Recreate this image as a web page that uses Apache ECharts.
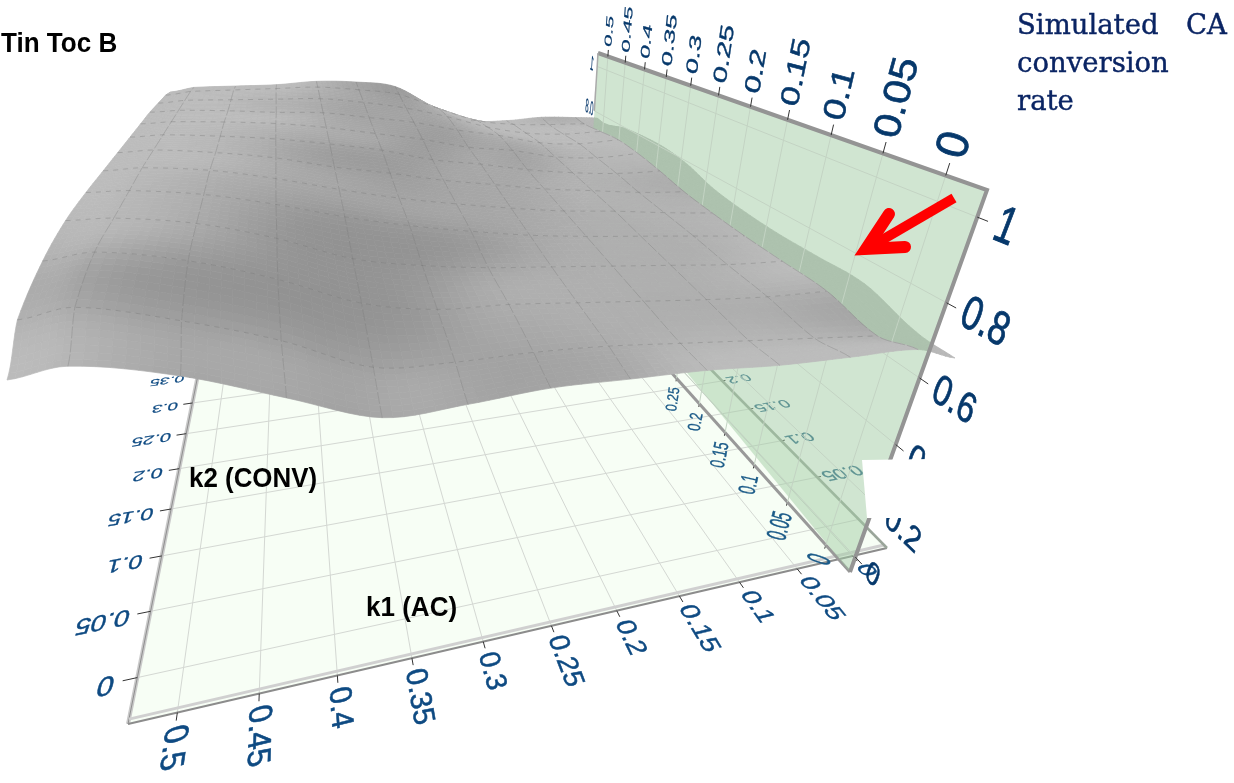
<!DOCTYPE html>
<html><head><meta charset="utf-8">
<style>html,body{margin:0;padding:0;background:#fff}#c{width:1234px;height:783px}</style>
<script src="https://cdn.jsdelivr.net/npm/echarts@6/dist/echarts.min.js"></script></head>
<body><div id="c"></div>
<script>
// ---- data ----
const k1Ticks=[0.5,0.45,0.4,0.35,0.3,0.25,0.2,0.15,0.1,0.05,0];
const k1Labels=['0.5','0.45','0.4','0.35','0.3','0.25','0.2','0.15','0.1','0.05','0'];
const k2Ticks=[0,0.05,0.1,0.15,0.2,0.25,0.3,0.35,0.4,0.45,0.5];
const k2Labels=['0','0.05','0.1','0.15','0.2','0.25','0.3','0.35','0.4','0.45','0.5'];
const zTicks=[0,0.2,0.4,0.6,0.8,1];
const zLabels=['0','0.2','0.4','0.6','0.8','1'];
const surfaceK1=[0.529,0.5,0.45,0.4,0.35,0.3,0.25,0.2,0.15,0.1,0.05,0,-0.032];
const surfaceK2=[-0.03,0,0.05,0.1,0.15,0.2,0.25,0.3,0.35,0.4,0.45,0.5,0.53];
const surfaceZ=[
[.80,.83,.80,.735,.67,.70,.74,.76,.78,.79,.81,.83,.80],
[.86,.89,.855,.80,.72,.73,.755,.77,.775,.78,.785,.79,.80],
[.89,.915,.895,.845,.775,.755,.77,.775,.78,.785,.795,.815,.84],
[.90,.91,.90,.86,.80,.78,.775,.78,.785,.79,.795,.81,.83],
[.895,.905,.90,.875,.84,.815,.80,.79,.79,.795,.80,.805,.82],
[.885,.90,.90,.88,.85,.825,.81,.80,.795,.80,.80,.805,.82],
[.875,.89,.89,.88,.855,.84,.82,.81,.80,.80,.80,.81,.83],
[.865,.88,.885,.885,.875,.86,.83,.82,.805,.80,.805,.825,.86],
[.855,.87,.88,.885,.88,.865,.85,.825,.82,.80,.805,.835,.87],
[.845,.86,.87,.875,.885,.875,.865,.84,.825,.80,.805,.835,.86],
[.83,.85,.865,.88,.895,.89,.875,.845,.805,.785,.79,.815,.84],
[.815,.84,.86,.88,.90,.90,.89,.83,.78,.77,.78,.795,.80],
[.80,.83,.85,.87,.90,.91,.90,.805,.745,.755,.785,.795,.80]];

// ---- camera ----
function quad(p0,p1,p2,p3){
 const [x0,y0]=p0,[x1,y1]=p1,[x2,y2]=p2,[x3,y3]=p3;
 const dx1=x1-x2,dx2=x3-x2,sx=x0-x1+x2-x3,dy1=y1-y2,dy2=y3-y2,sy=y0-y1+y2-y3;
 const den=dx1*dy2-dx2*dy1;
 const g=(sx*dy2-dx2*sy)/den,h=(dx1*sy-sx*dy1)/den;
 return {a:x1-x0+g*x1,b:x3-x0+h*x3,c:x0,d:y1-y0+g*y1,e:y3-y0+h*y3,f:y0,g,h};
}
function applyH(H,s,t){const w=H.g*s+H.h*t+1;return [(H.a*s+H.b*t+H.c)/w,(H.d*s+H.e*t+H.f)/w];}
const HF=quad([887,548],[128,724],[213,300],[599,256]);
const floorP=(k1,k2)=>applyH(HF,(k1+0.032)/0.561,(k2+0.03)/0.56);
const HW=quad([850,572],[987,190],[598,53],[584,275]);
const wallP=(k2,z)=>applyH(HW,(z+0.06)/1.118,(k2+0.028)/0.559);
const HS=quad([955,358],[7,380],[170,92],[597,118]);
const VP=[506,1496],LIFT=-0.27,ZREF=0.8;
function surfP(k1,k2,z){
 const s=(k1+0.032)/0.561,t=(k2+0.03)/0.56,d=(z-ZREF)*LIFT;
 const w=HS.g*s+HS.h*t+1+d;
 return [(HS.a*s+HS.b*t+HS.c+d*VP[0])/w,(HS.d*s+HS.e*t+HS.f+d*VP[1])/w];
}
// Catmull-Rom sampling of the read values, only to draw a smooth skin between them
function cr(a,b,c,d,t){return 0.5*((2*b)+(-a+c)*t+(2*a-5*b+4*c-d)*t*t+(-a+3*b-3*c+d)*t*t*t);}
const R=surfaceK2.length,C=surfaceK1.length;
function zAt(r,c,u,v){
 const row=i=>surfaceZ[Math.max(0,Math.min(R-1,i))];
 const col=(rr,j)=>rr[Math.max(0,Math.min(C-1,j))];
 const vals=[-1,0,1,2].map(dr=>{const rr=row(r+dr);return cr(col(rr,c-1),col(rr,c),col(rr,c+1),col(rr,c+2),u);});
 return cr(vals[0],vals[1],vals[2],vals[3],v);
}
const SUB=8;
function samp(r,c,i,j){
 let rr=r,cc=c,u=i/SUB,v=j/SUB;
 if(u>=1&&cc<C-2){cc++;u=0;} if(v>=1&&rr<R-2){rr++;v=0;}
 const k1=surfaceK1[cc]+(surfaceK1[cc+1]-surfaceK1[cc])*u;
 const k2=surfaceK2[rr]+(surfaceK2[rr+1]-surfaceK2[rr])*v;
 return [k1,k2,zAt(rr,cc,u,v)];
}
function rawGray(r,c,i,j){
 const a=samp(r,c,i,j),b=samp(r,c,i+1,j),d=samp(r,c,i,j+1),e=samp(r,c,i+1,j+1);
 const dk1=((b[2]+e[2])-(a[2]+d[2]))/2/(b[0]-a[0]);
 const s=((d[2]+e[2])-(a[2]+b[2]))/2/(d[1]-a[1]);
 let g=s<0.7?178-45*s:146.5+(s-0.7)*30;
 g-=14*dk1;
 return Math.max(146,Math.min(188,g));
}
// soft shading field over the skin
const NY=(R-1)*SUB,NX=(C-1)*SUB;
let G=[];
for(let y=0;y<NY;y++){const a=[];for(let x=0;x<NX;x++)a.push(rawGray(Math.floor(y/SUB),Math.floor(x/SUB),x%SUB,y%SUB));G.push(a);}
function blur(M,rad){
 const o=M.map(a=>a.slice());
 for(let y=0;y<NY;y++)for(let x=0;x<NX;x++){
  let s=0,n=0;
  for(let dy=-rad;dy<=rad;dy++)for(let dx=-rad;dx<=rad;dx++){
   const yy=y+dy,xx=x+dx; if(yy<0||yy>=NY||xx<0||xx>=NX)continue; s+=M[yy][xx];n++;
  }
  o[y][x]=s/n;
 }
 return o;
}
G=blur(blur(G,3),3);
// ---- layers ----
const line=(pts,stroke,w,dash)=>({k:'l',pts,stroke,w,dash});
const poly=(pts,fill,stroke)=>({k:'p',pts,fill,stroke});
const FONT='"Liberation Sans"';
function ptext(P,c0,c1,dir,up,str,col,F,noSkew){
 F=F||40;
 const o=P(c0,c1);
 const a=P(c0+dir[0]/2,c1+dir[1]/2),b=P(c0-dir[0]/2,c1-dir[1]/2);
 const e=P(c0+up[0]/2,c1+up[1]/2),f=P(c0-up[0]/2,c1-up[1]/2);
 const e1=[a[0]-b[0],a[1]-b[1]],e2=[e[0]-f[0],e[1]-f[1]];
 const th=Math.atan2(-e1[1],e1[0]);
 const l1=Math.hypot(e1[0],e1[1]);
 const u1=[Math.cos(th),-Math.sin(th)],n=[-Math.sin(th),-Math.cos(th)];
 const pa=e2[0]*u1[0]+e2[1]*u1[1],pb=e2[0]*n[0]+e2[1]*n[1];
 return {k:'t',x:o[0],y:o[1],rot:th,sx:l1/F,sy:pb/F,skew:noSkew?0:Math.atan(-pa/pb),str,col,F};
}
const wEm=s=>s.length-([...s].filter(x=>x==='.').length)*0.722-([...s].filter(x=>x!=='.').length)*0.444;

const floorL=[],wallUnder=[],surfEdge=[],wallL=[],surfMain=[],surfGrid=[],topL=[];
floorL.push(poly([floorP(0.529,-0.03),floorP(-0.032,-0.03),floorP(-0.032,0.53),floorP(0.529,0.53)],'#f7fef5'));
k1Ticks.forEach(k=>floorL.push(line([floorP(k,-0.03),floorP(k,0.53)],'#d4d8d3',1)));
k2Ticks.forEach(k=>floorL.push(line([floorP(-0.032,k),floorP(0.529,k)],'#d4d8d3',1)));
floorL.push(line([floorP(0.529,-0.03),floorP(0.529,0.53)],'#c9c9c9',4));
floorL.push(line([floorP(0.529,-0.03),floorP(0.529,0.53)],'#8f8f8f',1));
floorL.push(line([floorP(0.529,-0.027),floorP(-0.032,-0.027)],'#d0d0d0',3));
floorL.push(line([floorP(0.529,-0.03),floorP(-0.032,-0.03)],'#8c8c8c',2));
k1Ticks.forEach((k,i)=>{
 floorL.push(line([floorP(k,-0.03),floorP(k,-0.035)],'#333',1));
 const s=k1Labels[i],em=0.0185,w=wEm(s)*em;
 floorL.push(ptext(floorP,k,-0.0385-w/2,[0,-em],[-em*1.05,0],s,'#0e4a82'));
});
k2Ticks.forEach((k,i)=>{
 if(k>0.35) return;
 floorL.push(line([floorP(0.529,k),floorP(0.538,k)],'#333',1));
 const s=k2Labels[i],em=0.0185,w=wEm(s)*em;
 floorL.push(ptext(floorP,0.543+w/2,k,[em,0],[0,-em],s,'#0e4a82'));
});
k2Ticks.forEach((k,i)=>{
 if(i===0||k>0.2) return;
 floorL.push(line([floorP(-0.032,k),floorP(-0.036,k)],'#333',1));
 const s=k2Labels[i],em=0.02,w=wEm(s)*em;
 floorL.push(ptext(floorP,-0.038-w/2,k,[em,0],[0,-em*0.85],s,'#1a5a80'));
});
const wallPoly=[[598,53],[987,190],[850,572],[697,385],[586,249]];
wallL.push(poly(wallPoly,'rgba(161,203,163,0.5)'));
k2Ticks.forEach(k=>wallL.push(line([wallP(k,1.058),wallP(k,-0.06)],'#c3d3c3',1)));
zTicks.forEach(z=>wallL.push(line([wallP(-0.028,z),wallP(0.531,z)],'#c3d3c3',1)));
wallUnder.push(line([wallP(-0.028,-0.06),wallP(0.531,-0.06)],'#999',3));
wallUnder.push(line([floorP(-0.032,-0.03),floorP(-0.032,0.53)],'#9aa59a',2.5));
topL.push(line([wallP(0.531,1.058),wallP(-0.028,1.058),wallP(-0.028,-0.06)],'#949494',4));
topL.push(line([wallP(0.531,1.058),wallP(0.531,0.8)],'#aaa',1.5));
k2Ticks.forEach((k,i)=>{
 topL.push(line([wallP(k,1.058),wallP(k,1.085)],'#333',1));
 const s=k2Labels[i],em=0.09,w=wEm(s)*em;
 topL.push(ptext(wallP,k,1.098+w/2,[0,em],[0.03,0],s,'#06386b'));
});
zTicks.forEach((z,i)=>{
 topL.push(line([wallP(-0.028,z),wallP(-0.035,z)],'#333',1));
 const s=zLabels[i],em=0.021,w=wEm(s)*em;
 topL.push(ptext(wallP,-0.04-w/2,z,[-em,0],[0,0.105],s,'#06386b'));
});
[0.8,1].forEach((z,i)=>{
 const s=['0.8','1'][i];
 topL.push(ptext(wallP,0.548,z,[0.02,0],[0,0.09],s,'#06386b'));
});
k2Ticks.forEach((k,i)=>{
 if(k>0.25) return;
 const s=k2Labels[i],em=0.062,w=wEm(s)*em;
 floorL.push(line([wallP(k,-0.06),wallP(k,-0.075)],'#333',1));
 floorL.push(ptext(wallP,k,-0.105-w/2,[0,em],[0.032,0],s,'#1a5a88',40,true));
});
for(let r=0;r<R-1;r++)for(let c=0;c<C-1;c++)for(let i=0;i<SUB;i++)for(let j=0;j<SUB;j++){
 const P=(ii,jj)=>{const q=samp(r,c,ii,jj);return surfP(q[0],q[1],q[2]);};
 let g=Math.round(G[r*SUB+j][c*SUB+i]);
 if(c===C-2) g=184;
 const col=`rgb(${g},${g},${g})`;
 const it=poly([P(i,j),P(i+1,j),P(i+1,j+1),P(i,j+1)],col,col);
 (c===C-2?surfEdge:surfMain).push(it);
}
k1Ticks.forEach(k=>{
 const c=surfaceK1.indexOf(k),pts=[];
 for(let r=0;r<R-1;r++)for(let j=0;j<=SUB;j++){const q=samp(r,c,0,j);pts.push(surfP(q[0],q[1],q[2]));}
 surfGrid.push(line(pts,'rgba(110,110,110,0.32)',0.9,[12,2]));
});
k2Ticks.forEach(k=>{
 const r=surfaceK2.indexOf(k),pts=[];
 for(let c=0;c<C-2;c++)for(let i=0;i<=SUB;i++){const q=samp(r,c,i,0);pts.push(surfP(q[0],q[1],q[2]));}
 surfGrid.push(line(pts,'rgba(110,110,110,0.38)',0.9,[5,5]));
});

function mk(items,z){return {type:'custom',coordinateSystem:'cartesian2d',z,silent:true,clip:false,animation:false,progressive:0,
 data:items.map((_,i)=>[0,0,i]),
 renderItem(p,api){
  const it=items[api.value(2)];
  if(it.k==='l')return {type:'polyline',shape:{points:it.pts.map(q=>api.coord(q))},style:{stroke:it.stroke,lineWidth:it.w,lineDash:it.dash||null,fill:null}};
  if(it.k==='p')return {type:'polygon',shape:{points:it.pts.map(q=>api.coord(q))},style:{fill:it.fill,stroke:it.stroke||null,lineWidth:it.stroke?0.7:0}};
  const q=api.coord([it.x,it.y]);
  return {type:'text',x:q[0],y:q[1],rotation:it.rot,scaleX:it.sx,scaleY:it.sy,skewX:it.skew,style:{text:it.str,fill:it.col,stroke:it.col,lineWidth:0.7,font:`${it.F}px ${FONT}`,align:'center',verticalAlign:'middle'}};
 }};}
const txt=(x,y,text,font,fill,sx,extra)=>({type:'text',z:100,x,y,silent:true,scaleX:sx||1,style:Object.assign({text,font,fill,verticalAlign:'middle'},extra||{})});
const NAVY='#0a2463',SER={stroke:NAVY,lineWidth:0.4};
const chart=echarts.init(document.getElementById('c'),null,{renderer:'canvas'});
chart.setOption({animation:false,
 grid:{left:0,right:0,top:0,bottom:0},
 xAxis:{type:'value',min:0,max:1234,show:false},
 yAxis:{type:'value',min:0,max:783,inverse:true,show:false},
 series:[mk(floorL,2),mk(wallUnder,3),mk(surfEdge,4),mk(wallL,5),mk(surfMain,6),mk(surfGrid,7),mk(topL,8)],
 graphic:[
  {type:'polygon',z:90,silent:true,shape:{points:[[862,460],[1000,458],[1000,518],[867,518]]},style:{fill:'#fff'}},
  {type:'polyline',z:95,silent:true,shape:{points:[[954,198],[870,247]]},style:{stroke:'#ff0000',lineWidth:10,fill:null}},
  {type:'polyline',z:95,silent:true,shape:{points:[[889,214],[866,249],[905,247]]},style:{stroke:'#ff0000',lineWidth:12,lineCap:'round',lineJoin:'miter',fill:null}},
  txt(1,44,'Tin Toc B','bold 28px "Liberation Sans"','#000',0.93),
  txt(189,479,'k2 (CONV)','bold 28px "Liberation Sans"','#000',0.925),
  txt(366,608,'k1 (AC)','bold 28px "Liberation Sans"','#000',0.93),
  txt(1017,27,'Simulated','27.5px "DejaVu Serif"',NAVY,1,SER),
  txt(1186,27,'CA','27.5px "DejaVu Serif"',NAVY,1,SER),
  txt(1017,65,'conversion','27.5px "DejaVu Serif"',NAVY,1,SER),
  txt(1017,103,'rate','27.5px "DejaVu Serif"',NAVY,1,SER)
 ]});
</script></body></html>
